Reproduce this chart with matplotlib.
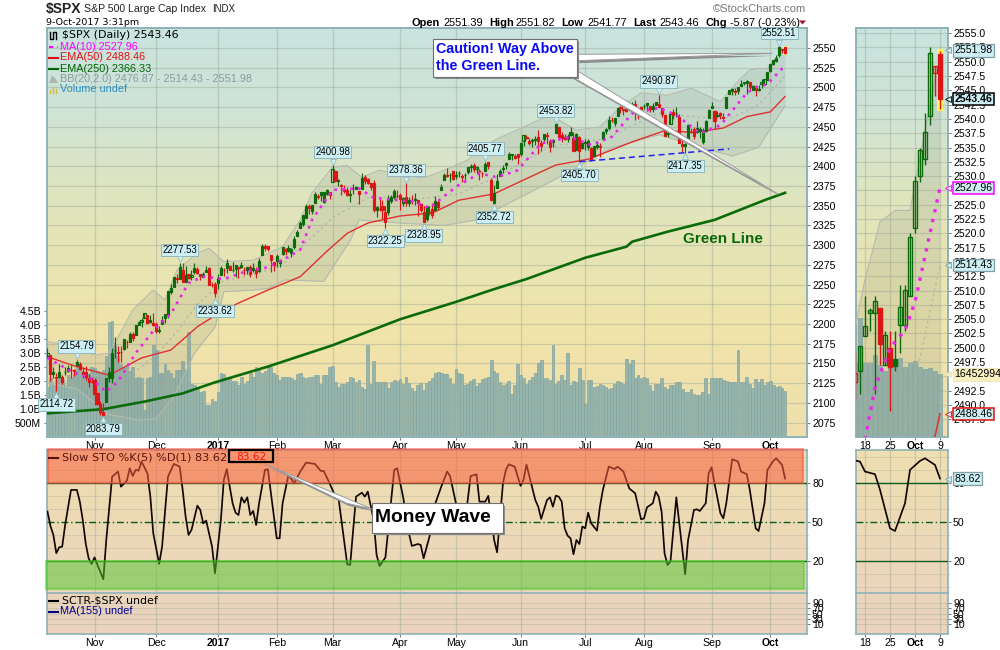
"""SPX daily chart with slow stochastics and a zoomed side panel."""
import matplotlib
matplotlib.use("Agg")
import matplotlib.pyplot as plt
from matplotlib.patches import Polygon, Rectangle
import numpy as np

plt.rcParams["font.family"] = ["Liberation Sans", "DejaVu Sans"]

# one value per trading day, 10-Oct-2016 to 9-Oct-2017, a line per month
closes = [
    2163.66, 2136.73, 2139.18, 2132.55, 2132.98, 2126.50, 2139.60, 2144.29, 2141.34, 2141.16, 2151.33, 2143.16, 2139.43, 2133.04, 2126.41, 2126.15,
    2111.72, 2097.94, 2088.66, 2085.18, 2131.52, 2139.56, 2163.26, 2167.48, 2164.45, 2164.20, 2180.39, 2176.94, 2187.12, 2181.90, 2198.18, 2202.94, 2204.72, 2213.35, 2201.72, 2204.66, 2198.81,
    2191.08, 2191.95, 2204.71, 2212.23, 2241.35, 2246.19, 2259.53, 2256.96, 2271.72, 2253.28, 2262.03, 2258.07, 2262.53, 2270.76, 2265.18, 2260.96, 2263.79, 2268.88, 2249.92, 2249.26, 2238.83,
    2257.83, 2270.75, 2269.00, 2276.98, 2268.90, 2268.90, 2275.32, 2270.44, 2274.64, 2267.89, 2271.89, 2263.69, 2271.31, 2265.20, 2280.07, 2298.37, 2296.68, 2294.69, 2280.90, 2278.87,
    2279.55, 2280.85, 2297.42, 2292.56, 2293.08, 2294.67, 2307.87, 2316.10, 2328.25, 2337.58, 2349.25, 2347.22, 2351.16, 2365.38, 2362.82, 2363.81, 2367.34, 2369.75, 2363.64,
    2395.96, 2381.92, 2383.12, 2375.31, 2368.39, 2362.98, 2364.87, 2372.60, 2373.47, 2365.45, 2385.26, 2381.38, 2378.25, 2373.47, 2344.02, 2348.45, 2345.96, 2343.98, 2341.59, 2358.57, 2361.13, 2368.06, 2362.72,
    2358.84, 2360.16, 2352.95, 2357.49, 2355.54, 2357.16, 2353.78, 2344.93, 2328.95, 2349.01, 2342.19, 2338.17, 2355.84, 2348.69, 2374.15, 2388.61, 2387.45, 2388.77, 2384.20,
    2388.33, 2391.17, 2388.13, 2389.52, 2399.29, 2399.38, 2396.92, 2399.63, 2394.44, 2390.90, 2402.32, 2400.67, 2357.03, 2365.72, 2381.73, 2394.02, 2398.42, 2404.39, 2415.07, 2415.82, 2412.91, 2411.80,
    2430.06, 2439.07, 2436.10, 2429.33, 2433.14, 2433.79, 2431.77, 2429.39, 2440.35, 2437.92, 2432.46, 2433.15, 2453.46, 2437.03, 2435.61, 2434.50, 2438.30, 2439.07, 2419.38, 2440.69, 2419.70, 2423.41,
    2429.01, 2432.54, 2409.75, 2425.18, 2427.43, 2425.53, 2443.25, 2447.83, 2459.27, 2459.14, 2460.61, 2473.83, 2473.45, 2472.54, 2469.91, 2477.13, 2477.83, 2475.42, 2472.10, 2470.30,
    2476.35, 2477.57, 2472.16, 2476.83, 2480.91, 2474.92, 2474.02, 2438.21, 2441.32, 2465.84, 2464.61, 2468.11, 2430.01, 2425.55, 2428.37, 2452.51, 2444.04, 2438.97, 2443.05, 2444.24, 2446.30, 2457.59, 2471.65,
    2476.55, 2457.85, 2465.54, 2465.10, 2461.43, 2488.11, 2496.48, 2498.37, 2495.62, 2500.23, 2503.87, 2506.65, 2508.24, 2500.60, 2502.22, 2496.66, 2496.84, 2507.04, 2510.06, 2519.36,
    2529.12, 2534.58, 2537.74, 2551.50, 2549.33, 2543.46,
]
opens = [
    2160, 2161, 2137, 2131, 2139, 2133, 2139, 2140, 2142, 2140, 2148, 2149, 2136, 2139, 2132, 2127,
    2129, 2112, 2098, 2089, 2101, 2132, 2131, 2167, 2163, 2165, 2168, 2177, 2177, 2187, 2186, 2199, 2203, 2207, 2211, 2202, 2201,
    2200, 2191, 2200, 2207, 2211, 2241, 2247, 2258, 2257, 2269, 2253, 2263, 2259, 2266, 2270, 2263, 2260, 2266, 2271, 2250, 2251,
    2252, 2262, 2269, 2271, 2274, 2269, 2270, 2272, 2272, 2269, 2269, 2272, 2269, 2268, 2267, 2288, 2299, 2299, 2287, 2275,
    2286, 2277, 2289, 2295, 2296, 2290, 2297, 2312, 2322, 2327, 2335, 2350, 2343, 2354, 2361, 2367, 2355, 2365, 2367,
    2380, 2394, 2381, 2376, 2371, 2370, 2363, 2372, 2371, 2369, 2371, 2387, 2384, 2379, 2379, 2344, 2346, 2350, 2329, 2342, 2356, 2361, 2362,
    2363, 2354, 2361, 2353, 2356, 2358, 2357, 2352, 2342, 2333, 2342, 2346, 2345, 2355, 2370, 2382, 2389, 2389, 2394,
    2388, 2391, 2386, 2389, 2393, 2400, 2401, 2397, 2394, 2392, 2394, 2405, 2383, 2354, 2372, 2388, 2397, 2401, 2409, 2414, 2411, 2416,
    2415, 2432, 2437, 2432, 2432, 2434, 2437, 2426, 2435, 2440, 2424, 2431, 2442, 2450, 2440, 2437, 2434, 2443, 2436, 2421, 2437, 2429,
    2431, 2424, 2423, 2413, 2424, 2425, 2435, 2445, 2449, 2459, 2455, 2464, 2475, 2471, 2472, 2472, 2479, 2479, 2469, 2475,
    2477, 2480, 2476, 2473, 2478, 2479, 2466, 2465, 2442, 2454, 2469, 2468, 2463, 2428, 2426, 2434, 2444, 2447, 2449, 2447, 2431, 2445, 2461,
    2474, 2470, 2464, 2468, 2462, 2474, 2492, 2495, 2494, 2496, 2502, 2506, 2506, 2507, 2497, 2500, 2498, 2504, 2504, 2509,
    2521, 2530, 2533, 2540.5, 2548, 2551.39,
]
highs = [
    2170, 2161, 2145, 2138, 2149, 2135, 2145, 2148, 2148, 2143, 2154.79, 2152, 2146, 2147, 2137, 2133,
    2131, 2112, 2102, 2100, 2132, 2146, 2170, 2183, 2172, 2172, 2180, 2180, 2190, 2190, 2199, 2204, 2208, 2214, 2212, 2211, 2214,
    2203, 2198, 2210, 2213, 2241, 2251, 2260, 2264, 2277.53, 2277, 2273, 2264, 2269, 2277, 2272, 2264, 2266, 2273, 2272, 2253, 2253,
    2264, 2273, 2271, 2283, 2275, 2279, 2275, 2272, 2279, 2272, 2272, 2275, 2277, 2272, 2284, 2301, 2301, 2299, 2287, 2279,
    2289, 2283, 2298, 2296, 2300, 2296, 2311, 2319, 2331, 2338, 2352, 2352, 2351, 2367, 2365, 2368, 2368, 2371, 2368,
    2400.98, 2394, 2384, 2378, 2376, 2374, 2370, 2377, 2375, 2369, 2391, 2389, 2385, 2379, 2382, 2350, 2359, 2357, 2350, 2364, 2364, 2371, 2370,
    2366, 2361, 2378.36, 2361, 2364, 2366, 2356, 2352, 2349, 2349, 2349, 2353, 2362, 2357, 2377, 2392, 2398, 2392, 2394,
    2394, 2394, 2390, 2391, 2399, 2403, 2404, 2400, 2396, 2393, 2405.77, 2405, 2385, 2376, 2390, 2396, 2401, 2406, 2418, 2416, 2416, 2416,
    2431, 2440, 2440, 2436, 2436, 2439, 2446, 2433, 2441, 2443, 2434, 2434, 2453.82, 2450, 2443, 2441, 2441, 2450, 2443, 2442, 2439, 2432,
    2434, 2435, 2424, 2426, 2432, 2429, 2445, 2449, 2464, 2463, 2461, 2474, 2477, 2473, 2473, 2482, 2482, 2484, 2473, 2477,
    2479, 2480, 2477, 2480, 2481, 2490.87, 2474, 2465, 2450, 2468, 2473, 2475, 2466, 2437, 2430, 2454, 2449, 2450, 2457, 2450, 2449, 2459, 2472,
    2481, 2471, 2470, 2469, 2468, 2488, 2497, 2499, 2499, 2500, 2509, 2507, 2509, 2507, 2503, 2503, 2503, 2511, 2511, 2520,
    2530, 2535, 2541, 2552.51, 2549, 2551.82,
]
lows = [
    2157, 2128, 2132, 2114.72, 2132, 2124, 2135, 2139, 2131, 2134, 2147, 2142, 2131, 2129, 2120, 2125,
    2097, 2097, 2084, 2083.79, 2101, 2127, 2125, 2157, 2152, 2152, 2167, 2169, 2177, 2179, 2186, 2199, 2196, 2207, 2200, 2201, 2197,
    2188, 2188, 2200, 2201, 2208, 2238, 2247, 2252, 2257, 2253, 2253, 2257, 2256, 2264, 2264, 2256, 2259, 2266, 2249, 2247, 2233.62,
    2245, 2262, 2261, 2265, 2268, 2266, 2260, 2258, 2271, 2262, 2263, 2259, 2266, 2258, 2266, 2288, 2293, 2292, 2266, 2267,
    2272, 2272, 2288, 2288, 2291, 2285, 2295, 2312, 2322, 2324, 2335, 2339, 2339, 2354, 2358, 2356, 2353, 2363, 2359,
    2380, 2381, 2375, 2364, 2366, 2362, 2355, 2365, 2371, 2352, 2371, 2377, 2378, 2370, 2342, 2336, 2343, 2333, 2322.25, 2338, 2353, 2359, 2360,
    2344, 2350, 2350, 2350, 2352, 2351, 2337, 2342, 2328.95, 2331, 2338, 2335, 2345, 2345, 2370, 2382, 2387, 2380, 2382,
    2384, 2387, 2380, 2380, 2390, 2393, 2393, 2390, 2382, 2387, 2394, 2397, 2357, 2352.72, 2372, 2388, 2391, 2397, 2409, 2408, 2409, 2403,
    2413, 2426, 2434, 2427, 2425, 2427, 2416, 2419, 2431, 2428, 2418, 2425, 2442, 2437, 2431, 2433, 2431, 2438, 2419, 2421, 2405.70, 2422,
    2421, 2421, 2407, 2413, 2422, 2412, 2435, 2441, 2446, 2456, 2451, 2464, 2468, 2465, 2469, 2472, 2475, 2459, 2460, 2468,
    2473, 2470, 2469, 2469, 2478, 2475, 2463, 2438, 2437, 2454, 2460, 2462, 2430, 2418, 2417.35, 2434, 2442, 2435, 2442, 2436, 2428, 2443, 2461,
    2474, 2447, 2462, 2460, 2460, 2474, 2492, 2491, 2491, 2492, 2502, 2503, 2492, 2497, 2497, 2489, 2496, 2499, 2503, 2510,
    2520, 2529, 2532, 2539, 2544, 2541.77,
]
volumes = [
    1.8, 2.1, 1.85, 2.05, 2.15, 2.05, 1.85, 2.2, 2.15, 2.25, 2.55, 2.55, 2.35, 2.3, 2.25, 2.5,
    2.45, 2.35, 2.3, 2.4, 2.9, 4.1, 4.15, 3.3, 2.9, 2.6, 2.45, 2.55, 2.35, 2.5, 2.1, 2.15, 2.1, 0.95, 2.1, 2.15, 3.27,
    3.1, 2.3, 2.3, 2.6, 2.4, 2.3, 2.1, 2.4, 2.4, 2.7, 2.4, 3.75, 1.9, 1.85, 1.7, 1.6, 1.65, 1.15, 1.15, 1.35, 1.3,
    1.6, 2.3, 2.25, 2.1, 2.1, 2.0, 2.0, 1.85, 2.15, 1.9, 2.0, 2.3, 2.15, 2.5, 2.4, 2.3, 2.35, 2.55, 2.5, 2.3,
    2.2, 2.05, 2.15, 2.15, 2.15, 2.1, 2.05, 2.25, 2.3, 2.15, 2.1, 2.15, 2.15, 2.2, 2.2, 1.9, 2.2, 2.2, 2.5,
    2.55, 1.95, 1.8, 1.9, 1.9, 1.95, 2.15, 2.1, 1.95, 2.05, 1.8, 1.7, 3.3, 1.9, 2.7, 1.95, 1.95, 1.95, 1.95, 1.75, 1.95, 2.05, 2.0,
    2.08, 1.9, 2.14, 1.94, 1.76, 1.64, 1.85, 1.94, 1.67, 1.94, 2.0, 2.1, 2.3, 2.33, 2.3, 2.24, 2.26, 2.1, 1.9,
    2.44, 2.3, 2.26, 1.85, 1.9, 2.0, 2.06, 1.82, 1.94, 2.08, 2.1, 2.15, 2.74, 2.35, 2.3, 1.95, 1.85, 1.9, 2.0, 1.55, 1.85, 2.6,
    2.2, 2.1, 1.9, 2.05, 2.15, 2.3, 2.65, 2.74, 2.1, 2.1, 2.05, 3.3, 1.9, 2.0, 2.2, 2.05, 3.0, 1.85, 2.0, 1.95, 2.47, 2.05,
    1.17, 2.05, 2.05, 1.8, 1.83, 1.9, 1.87, 1.8, 1.7, 1.75, 1.9, 2.0, 1.97, 1.9, 2.8, 2.6, 2.74, 2.1, 2.2, 2.1,
    2.15, 2.1, 1.85, 1.65, 1.9, 1.9, 2.1, 1.8, 1.7, 1.85, 1.85, 1.95, 1.95, 1.7, 1.6, 1.6, 1.7, 1.55, 1.5, 1.5, 1.6, 2.1, 1.55,
    2.1, 2.1, 2.1, 2.1, 2.05, 2.0, 1.97, 1.95, 1.95, 3.12, 1.95, 1.95, 2.15, 1.9, 1.75, 2.07, 1.95, 2.07, 1.85, 1.95,
    2.0, 1.85, 1.8, 1.82, 1.75, 1.65,
]

# indicator lines at the vertices that show
ma10_idx = [0, 9, 14, 20, 24, 30, 37, 42, 48, 53, 60, 67, 74, 80, 86, 90, 97, 106, 111, 125, 130, 139, 147, 153, 160, 168, 178, 185, 192, 199, 208, 214, 222, 229, 236, 238, 241, 244, 246, 248, 250, 251]
ma10_val = [2157, 2138, 2133, 2114, 2127, 2163, 2196, 2213, 2252, 2260, 2257, 2266, 2271, 2281, 2294, 2332, 2370, 2372, 2360, 2355, 2347, 2374, 2391, 2386, 2395, 2429, 2437, 2427, 2437, 2467, 2474, 2465, 2442, 2452, 2484, 2493, 2500, 2503, 2508, 2516, 2524, 2527.96]
ema50_idx = [0, 9, 21, 32, 42, 51, 57, 65, 75, 86, 95, 102, 109, 115, 120, 131, 140, 152, 162, 173, 184, 192, 199, 210, 220, 230, 238, 246, 251]
ema50_val = [2158.5, 2147, 2135, 2157, 2167, 2196.5, 2210.6, 2226.6, 2243, 2260, 2292, 2315, 2328, 2333, 2337, 2340.8, 2357, 2365, 2382.6, 2401.6, 2409, 2420.6, 2431, 2445, 2443, 2448.5, 2463, 2469, 2488.46]
ema250_idx = [0, 19, 33, 46, 57, 75, 97, 120, 139, 151, 163, 183, 197, 199, 211, 227, 244, 251]
ema250_val = [2086.7, 2092, 2101.6, 2112, 2126, 2146, 2173, 2206, 2228, 2243, 2257, 2284, 2298, 2304.4, 2317, 2332, 2357, 2366.33]
bb_up_idx = [0, 9, 16, 21, 25, 29, 36, 40, 44, 51, 55, 60, 70, 80, 86, 90, 97, 102, 107, 113, 120, 128, 135, 143, 152, 171, 180, 188, 195, 202, 211, 219, 229, 236, 239, 242, 245, 248, 250, 251]
bb_up_val = [2177.6, 2172, 2160.7, 2163, 2190, 2218, 2243, 2230.4, 2268, 2290, 2296, 2279, 2281, 2298, 2332, 2366, 2399, 2401, 2386, 2395, 2390, 2385, 2395, 2408, 2433, 2465, 2446, 2450, 2475, 2493, 2490, 2499, 2482, 2512, 2522, 2524, 2524, 2538, 2547, 2551.98]
bb_low_idx = [0, 10, 16, 21, 26, 31, 37, 43, 50, 57, 60, 70, 75, 81, 94, 103, 106, 120, 135, 146, 172, 192, 208, 222, 233, 242, 251]
bb_low_val = [2125, 2118, 2100, 2085, 2082, 2078, 2080, 2108, 2163, 2196, 2241, 2243, 2245, 2256, 2254, 2306, 2332, 2328, 2325, 2332, 2382, 2423, 2440, 2424.5, 2413, 2424, 2476.87]
bb_mid_idx = [0, 16, 26, 37, 44, 51, 60, 70, 80, 90, 97, 110, 125, 140, 152, 171, 190, 208, 222, 233, 242, 251]
bb_mid_val = [2150, 2135, 2130, 2160, 2190, 2225, 2255, 2262, 2275, 2310, 2335, 2362, 2358, 2365, 2385, 2425, 2435, 2468, 2462, 2462, 2478, 2514.43]

sto_idx = [0, 1, 2, 3, 4, 5, 6, 8, 10, 11, 12, 13, 14, 15, 16, 17, 19, 20, 22, 24, 25, 27, 28, 29, 30, 31, 32, 34, 35, 36, 38, 39, 41, 43, 45, 46, 47, 48, 49, 51, 52, 53, 54, 56, 57, 59, 60, 61, 63, 64, 65, 66, 67, 68, 69, 70, 71, 72, 74, 75, 78, 79, 80, 82, 84, 86, 88, 91, 93, 94, 96, 98, 99, 102, 103, 105, 107, 108, 109, 111, 112, 113, 115, 118, 119, 121, 123, 124, 126, 127, 128, 130, 132, 134, 136, 137, 139, 140, 142, 143, 144, 146, 147, 149, 150, 151, 152, 153, 155, 156, 157, 159, 161, 162, 163, 166, 167, 168, 170, 171, 172, 173, 174, 175, 176, 177, 178, 179, 180, 181, 182, 183, 184, 185, 187, 188, 189, 191, 193, 194, 196, 198, 200, 202, 203, 204, 206, 207, 208, 209, 210, 211, 212, 214, 217, 218, 220, 221, 222, 224, 225, 226, 227, 229, 230, 231, 233, 235, 236, 238, 239, 241, 242, 244, 245, 247, 248, 250, 251]
sto_val = [58.2, 47.2, 40.3, 26.2, 30.8, 31.3, 47.9, 74.9, 74.9, 65.9, 51.8, 33.8, 22.3, 18, 23, 17.2, 6.2, 36.4, 85.1, 89, 77.4, 82, 91.5, 85.6, 90.3, 89.7, 96.7, 87.7, 69.7, 41.5, 18, 31.3, 85.1, 94.9, 92.8, 74.9, 54.4, 40.3, 44.1, 62.8, 59.5, 49.2, 51.3, 31.3, 10.8, 51.8, 82.6, 90.8, 64.6, 57.4, 55.6, 69.2, 65.1, 69.2, 55.6, 58.7, 47.9, 64.6, 90.3, 90.8, 37.7, 37.7, 64.6, 86.4, 80, 89, 95.9, 94.9, 89.5, 89.5, 80, 69.7, 69.2, 17.7, 17.2, 69.7, 72.8, 69.7, 73.6, 51.8, 24.9, 16.4, 23, 90.3, 91.5, 69.7, 41.5, 31.8, 33.3, 32.6, 22.3, 39, 64.6, 77.4, 89, 85.6, 64.6, 54, 50, 67, 85.6, 86.9, 65.9, 65.9, 70.3, 54.4, 36.4, 26.9, 80, 90.3, 94.6, 92.8, 78, 82.6, 94.4, 67.2, 62, 52.6, 67.2, 69.2, 62, 70.5, 69.7, 65.9, 45.4, 39.7, 37.7, 25.4, 36.4, 33.3, 46.7, 45.4, 57.4, 49.2, 43.6, 62, 74.9, 92.8, 91, 92.8, 89, 76, 72.3, 52.3, 53, 61.5, 64.6, 73.6, 69.7, 58, 26, 17.2, 19.7, 69.2, 10, 36.4, 59.5, 60, 58.7, 64.6, 87.7, 92.3, 80, 57, 53, 64.6, 98.5, 96.7, 89, 87, 75, 45.4, 43.3, 64.6, 90.3, 97.2, 99.2, 94.1, 83.62]

# chart peaks and troughs that carry a value tag
tag_high_idx = [10, 45, 97, 122, 149, 173, 208, 249]
tag_low_idx = [3, 19, 57, 115, 128, 152, 181, 217]

month_idx = [16, 37, 58, 78, 97, 120, 139, 161, 183, 203, 226, 246]
month_labels = ["Nov", "Dec", "2017", "Feb", "Mar", "Apr", "May", "Jun", "Jul", "Aug", "Sep", "Oct"]
side_idx = [236, 241, 246, 251]
side_labels = ["18", "25", "Oct", "9"]
vol_ticks = [0.5, 1, 1.5, 2, 2.5, 3, 3.5, 4, 4.5]
vol_labels = ["500M", "1.0B", "1.5B", "2.0B", "2.5B", "3.0B", "3.5B", "4.0B", "4.5B"]
trend_idx = [181, 232]
trend_val = [2405.8, 2422]

GREEN = "#0B6B0B"
RED = "#DC1616"
FRAME = "#8FB2B8"
GRID = "#9DAA98"
BOLD_TICKS = {"2017", "Oct"}
closes, opens, highs, lows = map(np.array, (closes, opens, highs, lows))
days = np.arange(len(closes))

fig = plt.figure(figsize=(10, 6.5), dpi=100, facecolor="white")


def px_axes(left, top, right, bottom, **kw):
    return fig.add_axes([left / 1000, 1 - bottom / 650, (right - left) / 1000, (bottom - top) / 650], **kw)


def gradient(ax, stops, colors):
    rows = np.linspace(0, 1, 200)
    rgb = np.array([matplotlib.colors.to_rgb(c) for c in colors])
    img = np.stack([np.interp(rows, stops, rgb[:, k]) for k in range(3)], axis=1)[:, None, :]
    ax.imshow(img, extent=(0, 1, 0, 1), transform=ax.transAxes, aspect="auto", zorder=0, origin="upper")


def style_frame(ax):
    for s in ax.spines.values():
        s.set_color(FRAME)
        s.set_linewidth(1.2)


def month_axis(ax, idx, labels, size=7.6):
    ax.set_xticks(idx)
    ax.set_xticklabels(labels, fontsize=size)
    for t in ax.get_xticklabels():
        t.set_fontweight("bold" if t.get_text() in BOLD_TICKS else "normal")
    ax.tick_params(axis="x", length=2, width=0.7, color="#777777", pad=1)
    ax.grid(axis="x", color=GRID, lw=0.9, alpha=0.45)


def draw_candles(ax, width, lw):
    prev = np.r_[closes[0] - 1, closes[:-1]]
    up = closes >= prev
    colors = np.where(up, GREEN, RED)
    hi = np.maximum(highs, np.maximum(opens, closes))
    lo = np.minimum(lows, np.minimum(opens, closes))
    ax.vlines(days, lo, hi, colors=colors, lw=lw, zorder=6)
    faces = [c if closes[k] < opens[k] else "none" for k, c in enumerate(colors)]
    ax.bar(days, np.abs(closes - opens), bottom=np.minimum(opens, closes), width=width,
           facecolor=faces, edgecolor=colors, lw=lw, zorder=7)


def merge_band():
    # upper and lower edges are read at different days, both go on one day axis
    x = np.union1d(bb_up_idx, bb_low_idx)
    return x, np.interp(x, bb_up_idx, bb_up_val), np.interp(x, bb_low_idx, bb_low_val)


def draw_price_lines(ax, ma_lw, ema_lw, long_lw):
    ax.fill_between(*merge_band(), color="#8E9A8C", alpha=0.2, lw=0, zorder=3)
    ax.plot(bb_mid_idx, bb_mid_val, color="#A9B2A6", lw=0.8, ls=(0, (2, 3)), zorder=3)
    ax.plot(bb_up_idx, bb_up_val, color="#B4BBAE", lw=0.8, zorder=3)
    ax.plot(bb_low_idx, bb_low_val, color="#B4BBAE", lw=0.8, zorder=3)
    ax.plot(ema250_idx, ema250_val, color=GREEN, lw=long_lw, zorder=4)
    ax.plot(ema50_idx, ema50_val, color="#E03030", lw=ema_lw, zorder=4)
    ax.plot(ma10_idx, ma10_val, color="#F020F0", lw=ma_lw, ls=(0, (1, 2)), zorder=8)
    # yellow marker behind the last candle
    ax.bar(days[-1], highs[-1] - lows[-1] + 0.8, bottom=lows[-1] - 0.4, width=1.25, color="#FFF45C", zorder=5)


def side_tag(ax, value, text, face, edge, weight="normal", lw=0.9, scale_ax=None):
    # scale_ax: read the value on that axes, draw on ax so the tag covers its ticks
    trans = (scale_ax or ax).get_yaxis_transform()
    ax.annotate(text, xy=(1.0, value), xycoords=trans, xytext=(5, 0),
                textcoords="offset points", fontsize=7.6, fontweight=weight, va="center", ha="left",
                annotation_clip=False, zorder=20,
                bbox=dict(boxstyle="square,pad=0.12", fc=face, ec=edge, lw=lw))
    ax.plot([1.006], [value], marker="<", ms=4, mfc=face, mec=edge, mew=0.6,
            transform=trans, clip_on=False, zorder=21)


# main price panel
MAIN = (46.5, 28.5, 806.5, 437)
SIDE = (855.5, 28.5, 947.5, 437)
MAIN_STOPS = [0, 0.2, 0.42, 0.74, 1]
MAIN_COLORS = ["#C9E3DF", "#CFE4D6", "#E0E5BD", "#F0E4A9", "#F0DFAE"]
main_xlim = (-0.34, 258.3)
side_xlim = (234.1, 252.5)

vol_ax = px_axes(*MAIN)
gradient(vol_ax, MAIN_STOPS, MAIN_COLORS)
vol_ax.bar(days, volumes, width=0.92, color="#98B5AB", edgecolor="#7BA3A2", lw=0.45, zorder=2)
vol_ax.set_xlim(main_xlim)
vol_ax.set_ylim(0, 14.59)
vol_ax.set_yticks(vol_ticks)
vol_ax.set_yticklabels(vol_labels, fontsize=7.6)
vol_ax.tick_params(axis="y", length=2, width=0.7, color="#777777", pad=2)
month_axis(vol_ax, month_idx, month_labels)
style_frame(vol_ax)

ax = px_axes(*MAIN)
ax.patch.set_alpha(0)
ax.set_xlim(main_xlim)
ax.set_ylim(2056.7, 2574.7)
ax.yaxis.tick_right()
ax.set_yticks(np.arange(2075, 2551, 25))
ax.tick_params(axis="y", labelsize=7.6, length=2, width=0.7, color="#777777", pad=2)
ax.set_xticks([])
ax.grid(axis="y", color=GRID, lw=0.9, alpha=0.45, zorder=1)
ax.set_axisbelow(True)
style_frame(ax)
draw_price_lines(ax, 1.9, 1.0, 1.9)
ax.plot(trend_idx, trend_val, color="#2222EE", lw=1.1, ls=(0, (4, 2.5)), zorder=8)
draw_candles(ax, 0.72, 0.85)

for i in tag_high_idx + tag_low_idx:
    is_high = i in tag_high_idx
    value = highs[i] if is_high else lows[i]
    ax.plot(i, value, marker="v" if is_high else "^", ms=5, mfc="#CDEFF3", mec="#8FB7BC", mew=0.5,
            transform=ax.transData + matplotlib.transforms.ScaledTranslation(0, (2.5 if is_high else -2.5) / 72, fig.dpi_scale_trans),
            zorder=11, clip_on=False)
    ax.annotate(f"{value:.2f}", xy=(i, value), xytext=(0, 9.5 if is_high else -9.5),
                textcoords="offset points", ha="center", va="center", fontsize=6.9, zorder=10,
                bbox=dict(boxstyle="square,pad=0.12", fc="#CDEFF3", ec="#8FB7BC", lw=0.7))

# zoomed price panel on the right
side_vol = px_axes(*SIDE)
gradient(side_vol, MAIN_STOPS, MAIN_COLORS)
side_vol.bar(days, volumes, width=0.98, color="#98B5AB", edgecolor="#7BA3A2", lw=0.5, zorder=2)
side_vol.set_xlim(side_xlim)
side_vol.set_ylim(0, 10.75)
side_vol.set_yticks([])
month_axis(side_vol, side_idx, side_labels)
style_frame(side_vol)

side = px_axes(*SIDE)
side.patch.set_alpha(0)
side.set_xlim(side_xlim)
side.set_ylim(2484.4, 2555.8)
side.yaxis.tick_right()
side.set_yticks(np.arange(2487.5, 2555.1, 2.5))
side.set_yticklabels([f"{v:.1f}" for v in np.arange(2487.5, 2555.1, 2.5)])
side.tick_params(axis="y", labelsize=7.6, length=2, width=0.7, color="#777777", pad=2)
side.set_xticks([])
side.grid(axis="y", color=GRID, lw=0.9, alpha=0.45, zorder=1)
side.set_axisbelow(True)
style_frame(side)
draw_price_lines(side, 2.4, 1.1, 1.9)
draw_candles(side, 0.8, 1.0)

side_tag(side, bb_up_val[-1], f"{bb_up_val[-1]:.2f}", "#CDEFF3", "#7F9EA6")
side_tag(side, closes[-1], f"{closes[-1]:.2f}", "#CDEFF3", "black", weight="bold", lw=1.1)
side_tag(side, ma10_val[-1], f"{ma10_val[-1]:.2f}", "#CDEFF3", "#FF00FF", lw=1.1)
side_tag(side, bb_mid_val[-1], f"{bb_mid_val[-1]:.2f}", "#CDEFF3", "#7F9EA6")
side_tag(side, ema50_val[-1], f"{ema50_val[-1]:.2f}", "#CDEFF3", "#E01010", lw=1.1)
side_tag(side, volumes[-1], "1645299466", "#F7EFC0", "#F0E8C0", scale_ax=side_vol)

# stochastics and SCTR panels
LOW_COLORS = ["#EFDFB0", "#EBD5BC"]
SCTR_COLORS = ["#EBD5BC", "#EAD2BE"]


def sto_panel(box, xlim, idx):
    a = px_axes(*box)
    gradient(a, [0, 1], LOW_COLORS)
    a.set_xlim(xlim)
    a.set_ylim(-4.6, 105.6)
    a.yaxis.tick_right()
    a.set_yticks([20, 50, 80])
    a.set_yticks(np.arange(0, 101, 10), minor=True)
    a.tick_params(axis="y", labelsize=7.6, length=2, width=0.7, color="#777777", pad=2)
    a.tick_params(axis="y", which="minor", length=1, color="#999999")
    a.grid(axis="y", which="minor", color=GRID, lw=0.7, alpha=0.3)
    a.set_xticks(idx)
    a.tick_params(axis="x", bottom=False, labelbottom=False)
    a.grid(axis="x", color=GRID, lw=0.9, alpha=0.45)
    a.spines["bottom"].set_visible(False)
    for name in ("top", "left", "right"):
        a.spines[name].set_color(FRAME)
        a.spines[name].set_linewidth(1.2)
    a.axhline(80, color="#0B5A1E", lw=1.0, zorder=3)
    a.axhline(20, color="#0B5A1E", lw=1.0, zorder=3)
    a.axhline(50, color="#0B5A1E", lw=1.0, ls=(0, (5, 2, 1, 2)), zorder=3)
    a.plot(sto_idx, sto_val, color="#140806", lw=1.25, zorder=5)
    return a


def sctr_panel(box, xlim, idx, labels):
    a = px_axes(*box)
    gradient(a, [0, 1], SCTR_COLORS)
    a.set_xlim(xlim)
    a.set_ylim(-26, 125)
    a.yaxis.tick_right()
    a.set_yticks([10, 30, 50, 70, 90])
    a.tick_params(axis="y", labelsize=7.6, length=2, width=0.7, color="#777777", pad=2)
    a.grid(axis="y", color=GRID, lw=0.7, alpha=0.4)
    month_axis(a, idx, labels)
    style_frame(a)
    return a


sto_ax = sto_panel((46.5, 450, 806.5, 593.3), main_xlim, month_idx)
sctr_panel((46.5, 593.3, 806.5, 634), main_xlim, month_idx, month_labels)
sto_side = sto_panel((855.5, 450, 947.5, 593.3), side_xlim, side_idx)
sctr_panel((855.5, 593.3, 947.5, 634), side_xlim, side_idx, side_labels)
side_tag(sto_side, sto_val[-1], f"{sto_val[-1]:.2f}", "#CDEFF3", "#7F9EA6")

# everything below sits on a full-figure layer measured in pixels
ov = fig.add_axes([0, 0, 1, 1], zorder=50)
ov.set_xlim(0, 1000)
ov.set_ylim(650, 0)
ov.axis("off")

ov.add_patch(Rectangle((48, 449), 754.7, 33.7, fc="#FA5C3C", ec="#F25545", alpha=0.55, lw=1.5, zorder=1))
ov.add_patch(Rectangle((45.7, 560.7), 758.6, 28.3, fc="#52C82E", ec="#40D020", alpha=0.5, lw=1.5, zorder=1))

ov.text(46, 9.5, "$SPX", fontsize=10, fontweight="bold", va="center", color="#222222")
ov.text(84, 9.5, "S&P 500 Large Cap Index", fontsize=7.6, va="center", color="#222222")
ov.text(212, 9.5, "INDX", fontsize=7, va="center", color="#222222")
ov.text(46, 22.5, "9-Oct-2017 3:31pm", fontsize=6.8, va="center", family="DejaVu Sans")
ov.text(806, 9.5, "©StockCharts.com", fontsize=8, va="center", ha="right", color="#777777")

header = [(412, "Open", True), (444, "2551.39", False), (489, "High", True), (516, "2551.82", False),
          (561, "Low", True), (588, "2541.77", False), (633, "Last", True), (660, "2543.46", False),
          (705, "Chg", True), (730, "-5.87 (-0.23%)", False)]
for x, s, bold in header:
    ov.text(x, 22.5, s, fontsize=7.9, va="center", fontweight="bold" if bold else "normal")
ov.add_patch(Polygon([(799, 20.5), (806, 20.5), (802.5, 24.5)], fc="#A01030", ec="none"))

ov.text(61.5, 35.5, "$SPX (Daily) 2543.46", fontsize=7.9, va="center", family="DejaVu Sans")
legend_rows = [(46.5, "MA(10) 2527.96", "#FF00FF"), (57.5, "EMA(50) 2488.46", "#E01010"),
               (68.5, "EMA(250) 2366.33", "#006400"), (79.5, "BB(20,2.0) 2476.87 - 2514.43 - 2551.98", "#8C9AA0"),
               (89.5, "Volume undef", "#2A8FC4")]
for y, s, c in legend_rows:
    ov.text(59.5, y, s, fontsize=7.8, va="center", color=c)
ov.plot([49, 58], [46.5, 46.5], color="#FF00FF", lw=1.5, ls=(0, (2, 2)))
ov.plot([49, 58], [57.5, 57.5], color="#E01010", lw=1.5)
ov.plot([49, 58], [68.5, 68.5], color="#006400", lw=1.5)
ov.add_patch(Polygon([(49, 83), (52, 75.5), (55, 78), (58, 83)], fc="#AEB7B0", ec="none"))
for x, h in ((50, 3), (53, 6), (56, 4)):
    ov.plot([x, x], [93, 93 - h], color="#D8B840", lw=1)
ov.plot([50, 50, 53, 53, 56, 56], [32, 39, 39, 32, 32, 39], color="black", lw=1)

ov.plot([49, 58], [457.5, 457.5], color="#5A0F0F", lw=1.5)
ov.text(61.5, 457.5, "Slow STO %K(5) %D(1) 83.62", fontsize=8.1, va="center", color="#5A1510", family="DejaVu Sans")
ov.text(251, 457.5, "83.62", fontsize=7.6, va="center", ha="center", color="#FF1010", family="DejaVu Sans")
ov.add_patch(Rectangle((228.7, 450), 44.6, 11.7, fc="none", ec="black", lw=1.6, zorder=6))
ov.plot([49, 58], [600.5, 600.5], color="black", lw=1.5)
ov.text(61.5, 600.5, "SCTR-$SPX undef", fontsize=7.9, va="center", family="DejaVu Sans")
ov.plot([49, 58], [611.5, 611.5], color="#000080", lw=1.5)
ov.text(59.5, 611.5, "MA(155) undef", fontsize=7.8, va="center", color="#000090")

ov.text(683, 239, "Green Line", fontsize=11, fontweight="bold", va="center", color="#0A6A0A")


def pointer(points):
    shadow = [(x + 2, y + 2.5) for x, y in points]
    ov.add_patch(Polygon(shadow, fc="#8C8C8C", ec="none", zorder=8))
    ov.add_patch(Polygon(points, fc="white", ec="#9A9A9A", lw=0.7, zorder=9))


def callout(x0, y0, x1, y1):
    ov.add_patch(Rectangle((x0 + 2, y0 + 2.5), x1 - x0, y1 - y0, fc="#8C8C8C", ec="none", zorder=10))
    ov.add_patch(Rectangle((x0, y0), x1 - x0, y1 - y0, fc="white", ec="#707070", lw=0.8, zorder=11))


pointer([(577.3, 54.3), (772.7, 53.3), (577.3, 60.7)])
pointer([(571.7, 76.7), (778.3, 194.3), (577.3, 70.7)])
callout(432.5, 38.5, 577, 76.5)
ov.text(435.5, 57.5, "Caution! Way Above\nthe Green Line.", fontsize=10.3, fontweight="bold", color="#0A0AF0",
        va="center", linespacing=1.2, zorder=12)

pointer([(346.7, 503.3), (265, 464), (372, 509)])
callout(372, 503, 502.5, 532.5)
ov.text(375, 518, "Money Wave", fontsize=13.9, fontweight="bold", va="center", zorder=12)

fig.savefig("out.png", dpi=100)
